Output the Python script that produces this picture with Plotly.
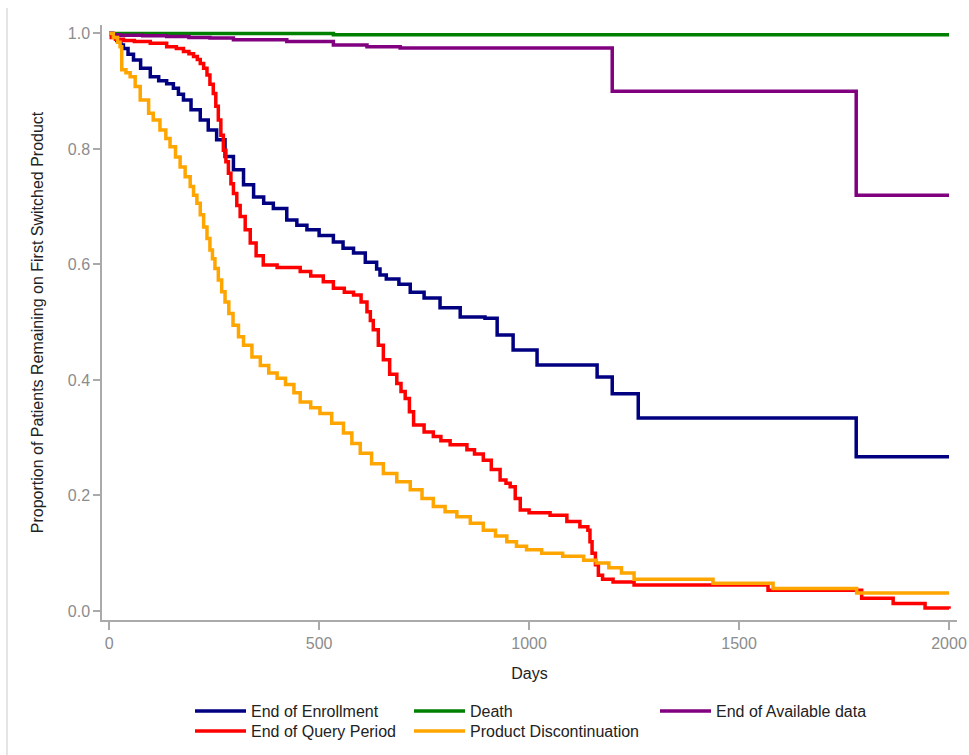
import plotly.graph_objects as go

# ---------------- data ----------------
enroll_days = [0, 8, 18, 28, 34, 45, 58, 75, 98, 118, 137, 153, 165, 177, 195, 217, 236, 256, 276, 296,
               320, 344, 368, 391, 423, 447, 471, 500, 534, 557, 582, 610, 637, 645, 660, 690, 717, 750,
               788, 836, 895, 924, 962, 1019, 1162, 1198, 1260, 1779, 2000]
enroll_vals = [1.0, 0.995, 0.988, 0.98, 0.974, 0.964, 0.954, 0.94, 0.925, 0.918, 0.913, 0.905, 0.895, 0.885,
               0.868, 0.85, 0.833, 0.816, 0.787, 0.764, 0.738, 0.717, 0.706, 0.697, 0.677, 0.668, 0.66,
               0.65, 0.639, 0.628, 0.62, 0.604, 0.592, 0.582, 0.575, 0.566, 0.552, 0.542, 0.525, 0.509,
               0.507, 0.478, 0.452, 0.426, 0.405, 0.376, 0.334, 0.267, 0.267]

death_days = [0, 534, 2000]
death_vals = [1.0, 0.998, 0.998]

avail_days = [0, 10, 26, 80, 137, 190, 240, 296, 423, 534, 614, 693, 1198, 1779, 2000]
avail_vals = [1.0, 0.998, 0.997, 0.996, 0.995, 0.993, 0.992, 0.989, 0.986, 0.98, 0.977, 0.975, 0.900,
              0.720, 0.720]

query_days = [0, 5, 15, 34, 60, 98, 137, 160, 177, 190, 201, 210, 217, 225, 233, 240, 248, 254, 260, 266,
              272, 278, 284, 290, 296, 304, 312, 324, 336, 350, 367, 400, 455, 480, 510, 534, 560, 582,
              600, 614, 622, 629, 641, 653, 668, 685, 695, 705, 715, 725, 750, 772, 790, 812, 852, 870,
              891, 910, 931, 945, 955, 967, 979, 1000, 1050, 1090, 1121, 1140, 1145, 1150, 1158, 1165,
              1175, 1200, 1250, 1569, 1792, 1867, 1943, 2000]
query_vals = [1.0, 0.993, 0.99, 0.988, 0.986, 0.983, 0.977, 0.974, 0.969, 0.965, 0.96, 0.955, 0.948, 0.94,
              0.928, 0.912, 0.896, 0.874, 0.85, 0.824, 0.798, 0.778, 0.758, 0.74, 0.723, 0.702, 0.683,
              0.66, 0.637, 0.615, 0.599, 0.595, 0.588, 0.58, 0.57, 0.559, 0.552, 0.547, 0.535, 0.518,
              0.503, 0.487, 0.46, 0.435, 0.41, 0.394, 0.38, 0.368, 0.345, 0.322, 0.31, 0.302, 0.295,
              0.288, 0.279, 0.272, 0.261, 0.245, 0.227, 0.221, 0.215, 0.195, 0.175, 0.17, 0.166, 0.155,
              0.146, 0.14, 0.12, 0.1, 0.08, 0.062, 0.055, 0.05, 0.045, 0.036, 0.022, 0.013, 0.005, 0.004]

disc_days = [0, 10, 20, 26, 30, 40, 50, 62, 74, 94, 105, 121, 135, 145, 158, 169, 181, 193, 201, 209, 217,
             225, 233, 240, 246, 252, 260, 268, 276, 285, 295, 308, 320, 340, 360, 380, 400, 420, 440, 455,
             480, 502, 530, 558, 578, 598, 625, 653, 685, 717, 745, 772, 800, 828, 860, 891, 920, 947, 970,
             994, 1030, 1080, 1130, 1160, 1190, 1220, 1250, 1438, 1581, 1780, 2000]
disc_vals = [1.0, 0.993, 0.985, 0.977, 0.937, 0.932, 0.925, 0.908, 0.885, 0.862, 0.85, 0.833, 0.818, 0.804,
             0.786, 0.769, 0.752, 0.735, 0.72, 0.706, 0.686, 0.665, 0.645, 0.625, 0.61, 0.593, 0.573,
             0.553, 0.535, 0.515, 0.495, 0.475, 0.46, 0.44, 0.425, 0.412, 0.403, 0.392, 0.378, 0.362,
             0.352, 0.342, 0.325, 0.308, 0.29, 0.273, 0.255, 0.238, 0.224, 0.21, 0.195, 0.181, 0.172,
             0.163, 0.152, 0.14, 0.13, 0.12, 0.112, 0.106, 0.1, 0.095, 0.088, 0.083, 0.075, 0.066,
             0.055, 0.048, 0.039, 0.031, 0.031]

x_ticks = [0, 500, 1000, 1500, 2000]
y_ticks = [0.0, 0.2, 0.4, 0.6, 0.8, 1.0]
y_tick_labels = ["0.0", "0.2", "0.4", "0.6", "0.8", "1.0"]

x_title = "Days"
y_title = "Proportion of Patients Remaining on First Switched Product"

# ---------------- layout geometry ----------------
W, H = 969, 755
ML, MR, MT, MB = 102, 12, 25, 135
PW, PH = W - ML - MR, H - MT - MB


def px_x(p):
    return (p - ML) / PW


def px_y(p):
    return (H - MB - p) / PH


FONT = "Arial, 'Liberation Sans', sans-serif"

series = [
    ("End of Enrollment", enroll_days, enroll_vals, "#000080", "legend", (195, 711)),
    ("End of Query Period", query_days, query_vals, "#FF0000", "legend2", (195, 731)),
    ("Death", death_days, death_vals, "#008000", "legend3", (414, 711)),
    ("Product Discontinuation", disc_days, disc_vals, "#FFA500", "legend4", (414, 731)),
    ("End of Available data", avail_days, avail_vals, "#800080", "legend5", (660, 711)),
]
draw_order = ["End of Enrollment", "Death", "End of Available data", "End of Query Period",
              "Product Discontinuation"]

fig = go.Figure()
by_name = {s[0]: s for s in series}
for name in draw_order:
    nm, xs, ys, col, leg, _ = by_name[name]
    fig.add_trace(go.Scatter(x=xs, y=ys, mode="lines", name=nm, line=dict(color=col, width=3.5, shape="hv"),
                             legend=leg, hoverinfo="x+y+name"))

legends = {}
for nm, xs, ys, col, leg, (lx, ly) in series:
    legends[leg] = dict(x=px_x(lx - 5), y=px_y(ly), xanchor="left", yanchor="middle",
                        orientation="v", itemwidth=51, bgcolor="rgba(0,0,0,0)", borderwidth=0,
                        font=dict(family=FONT, size=16, color="#222222"))

fig.update_layout(
    width=W, height=H,
    margin=dict(l=ML, r=MR, t=MT, b=MB, autoexpand=False),
    paper_bgcolor="white", plot_bgcolor="white",
    showlegend=True,
    font=dict(family=FONT, size=16, color="#222222"),
    xaxis=dict(range=[-17, 2019], tickvals=x_ticks, ticks="outside", ticklen=8, tickwidth=1.5,
               tickcolor="#aaaaaa", showline=True, linecolor="#aaaaaa", linewidth=1.5,
               showgrid=False, zeroline=False,
               tickfont=dict(family=FONT, size=16, color="#8c8c8c"),
               title=dict(text=x_title, standoff=17, font=dict(family=FONT, size=16, color="#222222"))),
    yaxis=dict(range=[-0.0156, 1.0147], tickvals=y_ticks, ticktext=y_tick_labels, ticks="outside",
               ticklen=7, tickwidth=1.5, tickcolor="#aaaaaa", showline=True, linecolor="#aaaaaa",
               linewidth=1.5, showgrid=False, zeroline=False,
               tickfont=dict(family=FONT, size=16, color="#8c8c8c"),
               title=dict(text=y_title, standoff=20, font=dict(family=FONT, size=16, color="#222222"))),
    shapes=[dict(type="line", xref="paper", yref="paper", x0=px_x(7), x1=px_x(7), y0=px_y(8),
                 y1=px_y(H), line=dict(color="#dddddd", width=1.5))],
    **legends,
)

fig.write_html("out.html", post_script="document.body.style.margin='0';",
               config={"displayModeBar": False})
